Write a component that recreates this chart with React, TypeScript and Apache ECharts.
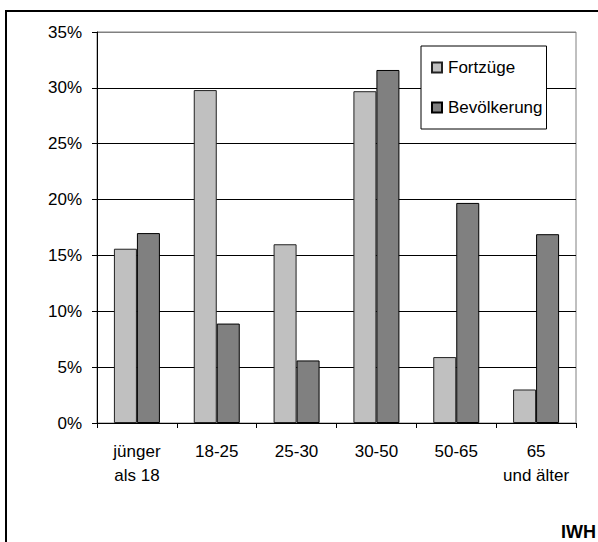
import React, { useEffect, useRef } from "react";
import * as echarts from "echarts";

const categories = ["jünger\nals 18", "18-25", "25-30", "30-50", "50-65", "65\nund älter"];
const fortzuege = [15.6, 29.8, 16.0, 29.7, 5.9, 3.0];
const bevoelkerung = [17.0, 8.9, 5.6, 31.6, 19.7, 16.9];
const seriesNames = ["Fortzüge", "Bevölkerung"];
const yMin = 0;
const yMax = 35;
const yStep = 5;

const FONT = "'Liberation Sans', Arial, sans-serif";

export default function App() {
  const ref = useRef<HTMLDivElement>(null);
  useEffect(() => {
    if (!ref.current) return;
    const chart = echarts.init(ref.current, undefined, { renderer: "svg" });
    const splitColors = [];
    for (let v = yMin; v <= yMax; v += yStep) splitColors.push(v === yMax ? "#808080" : "#000000");
    chart.setOption({
      animation: false,
      backgroundColor: "#ffffff",
      textStyle: { fontFamily: FONT },
      grid: {
        left: 97,
        right: 22,
        top: 32,
        bottom: 119,
        containLabel: false,
        show: true,
        borderColor: "#808080",
        borderWidth: 1,
        backgroundColor: "transparent",
      },
      legend: {
        orient: "vertical",
        left: 421,
        top: 46,
        width: 126,
        padding: [13, 4, 13, 10],
        itemGap: 23,
        itemWidth: 10,
        itemHeight: 10,
        icon: "rect",
        backgroundColor: "#ffffff",
        borderColor: "#000000",
        borderWidth: 1,
        textStyle: { fontSize: 17, color: "#000", fontFamily: FONT, padding: [0, 0, 0, 1] },
        data: seriesNames,
      },
      xAxis: {
        type: "category",
        data: categories,
        boundaryGap: true,
        axisLine: { show: true, lineStyle: { color: "#000", width: 1 } },
        axisTick: { show: true, length: 5, inside: false, lineStyle: { color: "#000" } },
        axisLabel: {
          color: "#000",
          fontSize: 17,
          fontFamily: FONT,
          lineHeight: 24,
          margin: 16,
          interval: 0,
        },
        splitLine: { show: false },
      },
      yAxis: {
        type: "value",
        min: yMin,
        max: yMax,
        interval: yStep,
        axisLine: { show: true, lineStyle: { color: "#000", width: 1 } },
        axisTick: { show: true, length: 5, lineStyle: { color: "#000" } },
        axisLabel: {
          color: "#000",
          fontSize: 17,
          fontFamily: FONT,
          margin: 15,
          formatter: "{value}%",
        },
        splitLine: { show: true, lineStyle: { color: splitColors, width: 1 } },
      },
      series: [
        {
          name: seriesNames[0],
          type: "bar",
          data: fortzuege,
          barWidth: 23,
          barGap: "0%",
          itemStyle: { color: "#C0C0C0", borderColor: "#222222", borderWidth: 1 },
        },
        {
          name: seriesNames[1],
          type: "bar",
          data: bevoelkerung,
          barWidth: 23,
          barGap: "0%",
          itemStyle: { color: "#808080", borderColor: "#000000", borderWidth: 1 },
        },
      ],
      graphic: [
        {
          type: "rect",
          shape: { x: 6, y: 11, width: 700, height: 700 },
          style: { fill: "none", stroke: "#000", lineWidth: 2 },
          silent: true,
        },
        {
          type: "text",
          x: 596,
          y: 541,
          style: {
            text: "IWH",
            font: "bold 18px " + FONT,
            fill: "#000",
            textAlign: "right",
            textVerticalAlign: "bottom",
          },
          silent: true,
        },
      ],
    });
    return () => chart.dispose();
  }, []);
  return (
    <div
      ref={ref}
      style={{ position: "fixed", left: 0, top: 0, width: 598, height: 542 }}
    />
  );
}
